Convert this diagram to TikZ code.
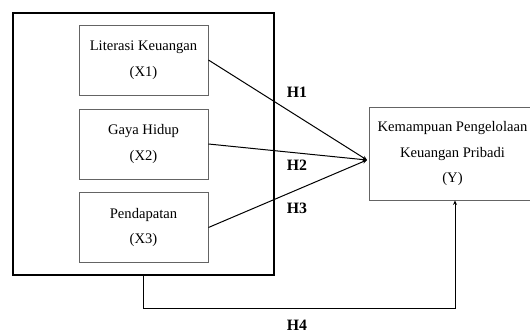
\documentclass[tikz,border=0pt]{standalone}
\usepackage{fontspec}
\setmainfont{Liberation Serif}
\usepackage{xcolor}
\usepackage{tikz}
\usetikzlibrary{arrows.meta, positioning, calc}
\definecolor{boxgray}{RGB}{100, 100, 100}

\begin{document}
\begin{tikzpicture}[
    x=1pt, y=-1pt,
    var/.style={rectangle, draw=boxgray, line width=0.9pt, fill=white, minimum width=129pt, minimum height=70pt, align=center, font=\fontsize{14.6}{25.5}\selectfont, execute at begin node={\rule{0pt}{21pt}}},
    frame/.style={rectangle, draw=black, line width=1.5pt, minimum width=261pt, minimum height=262pt},
    arrow/.style={-{Stealth[length=4.5pt, width=4pt]}, line width=1pt, black},
    hyp/.style={font=\fontsize{15.8}{18}\bfseries\selectfont}
]
    \clip (0,0) rectangle (530,333);
    \fill[white] (0,0) rectangle (530,333);

    % Independent variables
    \node[frame] (frame) at (143.5, 144) {};
    \node[var] (x1) at (143.5, 60) {Literasi Keuangan\\(X1)};
    \node[var] (x2) at (143.5, 144) {Gaya Hidup\\(X2)};
    \node[var] (x3) at (143.5, 227.5) {Pendapatan\\(X3)};

    % Dependent variable
    \node[var, minimum width=167pt, minimum height=93pt] (y) at (452.5, 153.5) {Kemampuan Pengelolaan\\Keuangan Pribadi\\(Y)};
    \coordinate (tip) at (367, 160);

    % Arrows
    \draw[arrow] (x1.east) -- (tip);
    \draw[arrow] (x2.east) -- (tip);
    \draw[arrow] (x3.east) -- (tip);
    \draw[arrow] (frame.south) -- ++(0, 33) -| ([xshift=2.5pt]y.south);

    % Labels
    \node[hyp] (h1) at (297, 92) {H1};
    \node[hyp] (h2) at (297, 165.5) {H2};
    \node[hyp] (h3) at (297, 208) {H3};
    \node[hyp] (h4) at (297, 325) {H4};
\end{tikzpicture}
\end{document}
